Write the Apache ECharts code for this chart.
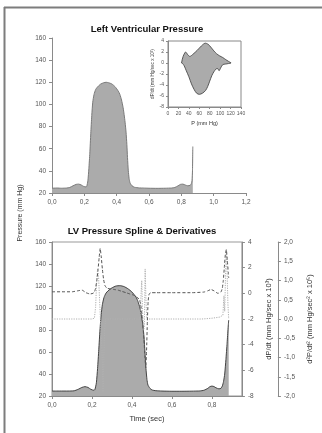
<!DOCTYPE html>
<html>
<head>
<meta charset="utf-8">
<script src="https://cdn.jsdelivr.net/npm/echarts@6/dist/echarts.min.js"></script>
<style>
html, body { margin: 0; padding: 0; background: #fff; }
#chart { width: 322px; height: 433px; }
</style>
</head>
<body>
<div id="chart"></div>
<script>
// raw LV pressure trace (top panel)
var rawTime = [0, 0.03, 0.06, 0.09, 0.11, 0.13, 0.15, 0.165, 0.18, 0.195, 0.21, 0.215, 0.222, 0.228, 0.234, 0.24, 0.246, 0.252, 0.26, 0.27, 0.28, 0.29, 0.30, 0.32, 0.335, 0.35, 0.37, 0.39, 0.41, 0.42, 0.43, 0.44, 0.446, 0.452, 0.458, 0.463, 0.467, 0.472, 0.477, 0.482, 0.487, 0.495, 0.51, 0.54, 0.6, 0.65, 0.7, 0.74, 0.76, 0.78, 0.795, 0.81, 0.825, 0.84, 0.855, 0.862, 0.866, 0.869, 0.871]
var rawPressure = [24.3, 24.5, 24.3, 24.5, 25, 26.5, 27.8, 28, 27.3, 26, 25.5, 26, 31, 42, 56, 74, 90, 102, 109, 113.5, 115.5, 117, 118.3, 119.6, 120, 119.6, 118.5, 116, 112, 109, 104, 97, 91, 84, 75, 64, 52, 40, 33, 29.5, 28, 26.5, 25.2, 24.6, 24.3, 24.2, 24.3, 24.5, 25, 26.5, 27.8, 28, 27.2, 26.5, 27, 28.5, 31, 40, 62]

// spline fit of the same beat (bottom panel)
var splineTime = [0, 0.04, 0.08, 0.11, 0.13, 0.15, 0.165, 0.18, 0.195, 0.21, 0.215, 0.222, 0.228, 0.234, 0.24, 0.246, 0.252, 0.26, 0.27, 0.28, 0.29, 0.30, 0.32, 0.34, 0.36, 0.38, 0.40, 0.42, 0.43, 0.44, 0.448, 0.455, 0.46, 0.465, 0.47, 0.475, 0.48, 0.49, 0.50, 0.52, 0.55, 0.6, 0.65, 0.7, 0.74, 0.76, 0.78, 0.79, 0.80, 0.81, 0.82, 0.835, 0.845, 0.852, 0.858, 0.864, 0.87, 0.876, 0.881, 0.884]
var splinePressure = [24.5, 24.5, 24.5, 24.7, 26, 27.8, 28.5, 27.8, 26, 25.2, 26, 32, 45, 62, 80, 94, 103, 109.5, 113.5, 115.5, 117, 118.3, 120, 120.3, 119.5, 117.5, 114.5, 110, 106, 100, 92, 84, 74, 60, 45, 35, 30, 27, 25.5, 24.8, 24.5, 24.3, 24.3, 24.4, 24.6, 25.2, 27, 28.5, 29, 28.6, 27.5, 26.5, 27, 29, 33, 40, 53, 68, 82, 89]

// first derivative dP/dt (x 10^3), dashed
var dpdtTime = [0, 0.05, 0.1, 0.13, 0.15, 0.17, 0.19, 0.205, 0.212, 0.218, 0.224, 0.23, 0.236, 0.241, 0.246, 0.252, 0.258, 0.265, 0.275, 0.29, 0.31, 0.33, 0.35, 0.37, 0.39, 0.41, 0.425, 0.435, 0.443, 0.448, 0.454, 0.46, 0.465, 0.469, 0.473, 0.477, 0.481, 0.486, 0.495, 0.52, 0.6, 0.7, 0.76, 0.78, 0.795, 0.81, 0.83, 0.845, 0.852, 0.857, 0.862, 0.867, 0.872, 0.877, 0.882, 0.884]
var dpdt = [0.12, 0.12, 0.12, 0.2, 0.25, 0.05, -0.05, 0.0, 0.1, 0.4, 1.0, 1.8, 2.8, 3.5, 2.9, 1.9, 1.1, 0.6, 0.4, 0.35, 0.3, 0.25, 0.15, 0.05, -0.05, -0.15, -0.3, -0.45, -0.8, -1.4, -2.4, -3.6, -5.0, -5.8, -4.5, -2.2, -0.6, -0.05, 0.05, 0.05, 0.05, 0.05, 0.1, 0.2, 0.3, 0.2, 0.0, 0.1, 0.4, 1.0, 2.0, 3.0, 3.4, 2.6, 1.6, 1.2]

// second derivative d2P/dt2 (x 10^5), dotted
var d2pTime = [0, 0.1, 0.2, 0.212, 0.218, 0.223, 0.228, 0.233, 0.238, 0.244, 0.25, 0.255, 0.258, 0.262, 0.268, 0.3, 0.4, 0.44, 0.445, 0.449, 0.453, 0.458, 0.462, 0.466, 0.47, 0.474, 0.48, 0.6, 0.75, 0.8, 0.84, 0.855, 0.86, 0.864, 0.868, 0.872, 0.876, 0.88, 0.884]
var d2p = [0, 0, 0, 0.02, 0.3, 0.9, 1.3, 1.1, 0.5, -0.2, -0.8, -1.9, -1.5, -0.4, 0, 0, 0, 0, 0.6, 1.0, 0.2, -0.3, -0.2, 1.3, 0.5, 0, 0, 0, 0, 0.02, 0.05, 0.1, 0.6, 0.2, 1.1, 1.8, 1.2, 0.4, 0]

// phase loop for the inset: P vs dP/dt
var loopP = [26, 29, 32, 34, 38, 42, 48, 56, 64, 71, 77, 82, 88, 93, 99, 105, 111, 116, 121, 116, 110, 105, 101, 98, 95, 92, 88, 84, 80, 76, 72, 66, 60, 55, 50, 45, 40, 35, 31, 28]
var loopDpdt = [0, 1.2, 1.8, 2.0, 1.5, 1.2, 1.6, 2.3, 3.1, 3.6, 3.4, 2.9, 2.2, 1.7, 1.3, 1.0, 0.6, 0.3, 0, -0.1, -0.2, -0.3, -0.9, -1.4, -1.0, -1.1, -1.6, -2.3, -3.3, -4.3, -5.0, -5.5, -5.7, -5.5, -4.8, -3.8, -2.5, -1.4, -0.5, -0.1]

var bottomTicks = [0, 0.2, 0.4, 0.6, 0.8]

function pairs(xs, ys) {
  return xs.map(function (x, i) { return [x, ys[i]] })
}
function comma(v) {
  return v.toFixed(1).replace('.', ',')
}

var FONT = "'Liberation Sans', Arial, sans-serif"
var axisCol = '#8a8a8a'
var labCol = '#555'

function axisBase(size) {
  return {
    axisLine: { show: true, onZero: false, lineStyle: { color: axisCol, width: 1 } },
    axisTick: { show: true, length: 3, lineStyle: { color: axisCol } },
    axisLabel: { color: labCol, fontSize: size, fontFamily: FONT, margin: 6 },
    splitLine: { show: false },
  }
}

var chart = echarts.init(document.getElementById('chart'))

var option = {
  animation: false,
  backgroundColor: '#fff',
  grid: [
    { left: 52, width: 194, top: 38, height: 155 },
    { left: 168, width: 73, top: 41, height: 66, show: true, borderColor: '#888', borderWidth: 1, backgroundColor: '#fff', z: 5 },
    { left: 52, width: 195, top: 242, height: 154, show: true, borderColor: '#999', borderWidth: 1 },
  ],
  xAxis: [
    Object.assign(axisBase(6.5), {
      type: 'value', gridIndex: 0, min: 0, max: 1.2, interval: 0.2,
      axisLabel: { color: labCol, fontSize: 6.5, fontFamily: FONT, margin: 6, formatter: comma },
    }),
    Object.assign(axisBase(5), {
      type: 'value', gridIndex: 1, min: 0, max: 140, interval: 20, z: 6,
      axisTick: { show: true, length: 2, lineStyle: { color: axisCol } },
      axisLabel: { color: labCol, fontSize: 5, fontFamily: FONT, margin: 4 },
      name: 'P (mm Hg)', nameLocation: 'middle', nameGap: 13,
      nameTextStyle: { fontSize: 5.5, color: '#333', fontFamily: FONT },
    }),
    Object.assign(axisBase(6.5), {
      type: 'value', gridIndex: 2, min: 0, max: 0.95,
      axisTick: { show: true, length: 3, lineStyle: { color: axisCol }, customValues: bottomTicks },
      axisLabel: { color: labCol, fontSize: 6.5, fontFamily: FONT, margin: 6, formatter: comma, customValues: bottomTicks },
      name: 'Time (sec)', nameLocation: 'middle', nameGap: 19,
      nameTextStyle: { fontSize: 7.5, color: '#333', fontFamily: FONT },
    }),
  ],
  yAxis: [
    Object.assign(axisBase(6.5), {
      type: 'value', gridIndex: 0, min: 20, max: 160, interval: 20,
    }),
    Object.assign(axisBase(5), {
      type: 'value', gridIndex: 1, min: -8, max: 4, interval: 2, z: 6,
      axisTick: { show: true, length: 2, lineStyle: { color: axisCol } },
      axisLabel: { color: labCol, fontSize: 5, fontFamily: FONT, margin: 4 },
      name: 'dP/dt (mm Hg/sec x 10\u00b3)', nameLocation: 'middle', nameGap: 11, nameRotate: 90,
      nameTextStyle: { fontSize: 4.6, color: '#333', fontFamily: FONT },
    }),
    Object.assign(axisBase(6.5), {
      type: 'value', gridIndex: 2, min: 20, max: 160, interval: 20,
    }),
    Object.assign(axisBase(6.5), {
      type: 'value', gridIndex: 2, position: 'right', min: -8, max: 4, interval: 2,
      name: 'dP/dt (mm Hg/sec x 10\u00b3)', nameLocation: 'middle', nameGap: 22, nameRotate: 90,
      nameTextStyle: { fontSize: 7.5, color: '#333', fontFamily: FONT },
    }),
    Object.assign(axisBase(6.5), {
      type: 'value', gridIndex: 2, position: 'right', offset: 36, min: -2, max: 2, interval: 0.5,
      axisLabel: { color: labCol, fontSize: 6.5, fontFamily: FONT, margin: 6, formatter: comma },
      name: 'd\u00b2P/dt\u00b2 (mm Hg/sec\u00b2 x 10\u2075)', nameLocation: 'middle', nameGap: 23, nameRotate: 90,
      nameTextStyle: { fontSize: 7.5, color: '#333', fontFamily: FONT },
    }),
  ],
  series: [
    {
      type: 'line', xAxisIndex: 0, yAxisIndex: 0, data: pairs(rawTime, rawPressure),
      showSymbol: false, smooth: 0.2,
      lineStyle: { color: '#7a7a7a', width: 1 },
      areaStyle: { color: '#ababab', opacity: 1, origin: 'start' },
    },
    {
      type: 'custom', xAxisIndex: 1, yAxisIndex: 1, data: [[0, 0]], silent: true, z: 7,
      renderItem: function (params, api) {
        var pts = loopP.map(function (p, i) { return api.coord([p, loopDpdt[i]]) })
        return {
          type: 'polygon',
          shape: { points: pts, smooth: 0.3 },
          style: { fill: '#ababab', stroke: '#3a3a3a', lineWidth: 0.8 },
        }
      },
    },
    {
      type: 'line', xAxisIndex: 2, yAxisIndex: 2, data: pairs(splineTime, splinePressure),
      showSymbol: false, smooth: 0.2,
      lineStyle: { color: '#444', width: 1 },
      areaStyle: { color: '#ababab', opacity: 1, origin: 'start' },
    },
    {
      type: 'line', xAxisIndex: 2, yAxisIndex: 4, data: pairs(d2pTime, d2p),
      showSymbol: false,
      lineStyle: { color: '#b0b0b0', width: 1, type: [1.2, 1.2] },
    },
    {
      type: 'line', xAxisIndex: 2, yAxisIndex: 3, data: pairs(dpdtTime, dpdt),
      showSymbol: false, smooth: 0.15,
      lineStyle: { color: '#555', width: 1, type: [3, 2] },
    },
  ],
  graphic: [
    { type: 'line', shape: { x1: 4, y1: 7.5, x2: 322, y2: 7.5 }, style: { stroke: '#7d7d7d', lineWidth: 2 } },
    { type: 'line', shape: { x1: 4.5, y1: 7, x2: 4.5, y2: 433 }, style: { stroke: '#7d7d7d', lineWidth: 2 } },
    { type: 'text', x: 147, y: 29, style: { text: 'Left Ventricular Pressure', font: 'bold 9.5px ' + FONT, fill: '#111', align: 'center', verticalAlign: 'middle', textAlign: 'center', textVerticalAlign: 'middle' } },
    { type: 'text', x: 142, y: 231, style: { text: 'LV Pressure Spline & Derivatives', font: 'bold 9.5px ' + FONT, fill: '#111', align: 'center', verticalAlign: 'middle', textAlign: 'center', textVerticalAlign: 'middle' } },
    { type: 'text', x: 20, y: 213, rotation: Math.PI / 2, style: { text: 'Pressure (mm Hg)', font: '7px ' + FONT, fill: '#333', align: 'center', verticalAlign: 'middle', textAlign: 'center', textVerticalAlign: 'middle' } },
  ],
}

chart.setOption(option)
</script>
</body>
</html>
